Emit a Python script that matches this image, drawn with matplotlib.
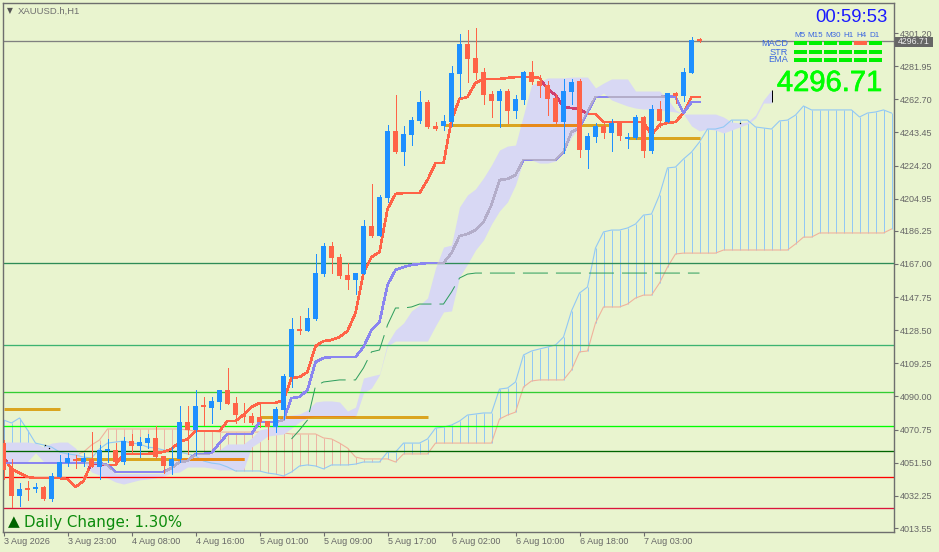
import numpy as np
import matplotlib
matplotlib.use("Agg")
import matplotlib.pyplot as plt
from matplotlib.patches import Rectangle
import matplotlib.patheffects as pe

W, H = 939, 552
BG = "#E9F4CF"
BLUE = "#1E90FF"
RED = "#FF6347"

# H1 candles
opens = [4062.9, 4047.9, 4032.1, 4036.8, 4036.2, 4037.4, 4030.4, 4043.2, 4051.3, 4053.7,
         4051.9, 4053.7, 4049.0, 4058.3, 4058.9, 4051.9, 4064.1, 4061.2, 4063.0, 4065.9,
         4055.4, 4049.6, 4053.7, 4075.2, 4070.5, 4084.4, 4083.3, 4086.8, 4093.8, 4086.2,
         4079.8, 4078.6, 4078.1, 4075.7, 4072.2, 4082.1, 4101.3, 4129.2, 4128.0, 4135.0,
         4161.2, 4177.4, 4171.0, 4160.6, 4157.7, 4161.2, 4189.0, 4183.2, 4205.3, 4244.2,
         4232.0, 4241.9, 4250.0, 4261.1, 4247.2, 4247.2, 4249.5, 4277.4, 4294.8, 4286.7,
         4278.5, 4265.8, 4261.7, 4267.5, 4255.9, 4262.3, 4278.5, 4273.3, 4271.0, 4263.4,
         4249.5, 4266.9, 4273.3, 4233.2, 4240.8, 4247.2, 4243.1, 4249.5, 4239.6, 4240.2,
         4252.4, 4232.6, 4257.0, 4249.5, 4266.3, 4264.6, 4278.0, 4297.1]
closes = [4047.3, 4032.1, 4036.2, 4035.9, 4037.4, 4030.4, 4043.8, 4051.9, 4054.2, 4052.5,
          4054.2, 4049.0, 4058.9, 4058.9, 4051.9, 4064.1, 4061.2, 4063.5, 4065.9, 4054.8,
          4049.6, 4053.7, 4075.2, 4070.5, 4084.4, 4083.8, 4087.4, 4093.8, 4085.6, 4079.2,
          4078.1, 4074.6, 4075.2, 4072.2, 4082.7, 4101.9, 4129.2, 4128.0, 4135.6, 4161.7,
          4177.4, 4170.5, 4160.0, 4157.7, 4161.7, 4189.0, 4183.2, 4205.9, 4244.2, 4232.0,
          4242.5, 4250.6, 4261.1, 4246.6, 4245.4, 4250.0, 4278.0, 4294.8, 4286.1, 4278.0,
          4265.2, 4261.7, 4267.5, 4255.9, 4262.9, 4278.5, 4272.7, 4270.4, 4262.9, 4249.5,
          4267.5, 4272.7, 4233.2, 4241.3, 4247.2, 4243.1, 4248.9, 4241.3, 4240.8, 4252.4,
          4232.6, 4257.0, 4250.0, 4266.3, 4264.6, 4278.5, 4297.1, 4296.7]
highs = [4064.7, 4053.7, 4039.8, 4040.9, 4039.8, 4038.0, 4045.5, 4056.0, 4057.2, 4056.0,
         4057.2, 4069.3, 4061.8, 4065.3, 4062.9, 4066.4, 4068.2, 4066.4, 4068.2, 4072.8,
         4055.4, 4060.6, 4084.4, 4084.4, 4093.8, 4089.7, 4089.7, 4093.8, 4106.5, 4089.7,
         4086.2, 4080.4, 4085.6, 4075.7, 4083.9, 4103.1, 4135.6, 4136.7, 4141.4, 4172.8,
         4179.2, 4179.8, 4172.8, 4167.6, 4161.7, 4192.5, 4213.5, 4207.1, 4247.7, 4265.2,
         4247.2, 4252.4, 4267.5, 4262.3, 4249.5, 4253.6, 4282.0, 4300.6, 4302.9, 4304.1,
         4280.9, 4267.5, 4268.7, 4268.7, 4265.2, 4279.1, 4284.9, 4276.8, 4273.3, 4265.8,
         4274.5, 4274.5, 4274.5, 4243.1, 4248.9, 4248.9, 4251.2, 4249.5, 4243.1, 4253.6,
         4253.0, 4259.4, 4261.7, 4266.3, 4266.9, 4280.9, 4298.9, 4298.3]
lows = [4042.0, 4025.7, 4026.3, 4029.8, 4034.5, 4029.8, 4029.2, 4043.2, 4049.6, 4048.4,
        4049.6, 4049.0, 4042.0, 4051.9, 4051.3, 4050.7, 4056.6, 4054.8, 4060.0, 4054.2,
        4045.6, 4045.0, 4051.9, 4056.6, 4056.0, 4073.4, 4074.6, 4082.7, 4085.6, 4074.6,
        4075.2, 4074.0, 4072.2, 4065.3, 4069.3, 4076.9, 4095.5, 4126.3, 4128.0, 4134.4,
        4160.0, 4161.7, 4158.8, 4152.5, 4149.5, 4161.2, 4182.6, 4183.2, 4203.0, 4231.5,
        4224.5, 4236.1, 4248.9, 4246.0, 4244.8, 4244.8, 4247.2, 4264.0, 4272.7, 4274.5,
        4260.0, 4252.4, 4246.6, 4248.9, 4251.8, 4260.0, 4271.6, 4264.0, 4253.6, 4248.9,
        4231.5, 4260.0, 4229.1, 4222.7, 4237.9, 4240.2, 4232.6, 4239.0, 4234.4, 4239.6,
        4229.1, 4231.5, 4246.6, 4249.5, 4260.5, 4261.7, 4278.0, 4295.9]

tenkan = [4054.8, 4047.8, 4045.5, 4043.2, 4042.6, 4042.6, 4042.6, 4042.6, 4042.0, 4037.4,
          4040.9, 4051.3, 4050.7, 4050.2, 4050.2, 4056.6, 4056.6, 4056.6, 4056.6, 4057.2,
          4057.7, 4059.5, 4063.5, 4065.3, 4069.9, 4069.9, 4069.9, 4069.9, 4075.7, 4075.7,
          4079.2, 4083.8, 4086.2, 4086.2, 4086.2, 4087.9, 4100.7, 4101.3, 4104.2, 4119.3,
          4122.2, 4122.8, 4124.5, 4128.0, 4138.5, 4161.7, 4171.0, 4173.9, 4198.9, 4207.7,
          4208.2, 4208.2, 4208.2, 4215.8, 4225.6, 4225.6, 4250.6, 4262.9, 4264.0, 4272.2,
          4274.5, 4274.5, 4274.5, 4275.1, 4275.6, 4275.6, 4275.6, 4275.1, 4268.7, 4265.2,
          4258.2, 4257.6, 4257.0, 4254.1, 4254.1, 4249.5, 4249.5, 4249.5, 4249.5, 4249.5,
          4249.5, 4241.9, 4247.8, 4248.9, 4249.5, 4254.7, 4264.0, 4264.0]
kijun = [4051.3, 4051.3, 4051.3, 4051.3, 4051.3, 4051.3, 4051.3, 4051.3, 4051.3, 4051.3,
         4051.3, 4051.3, 4051.3, 4050.2, 4046.1, 4046.1, 4046.1, 4046.1, 4046.1, 4046.1,
         4046.1, 4048.4, 4051.9, 4052.5, 4056.6, 4056.6, 4057.2, 4062.9, 4068.2, 4068.2,
         4068.2, 4068.2, 4075.2, 4075.2, 4075.2, 4076.3, 4089.1, 4089.7, 4093.8, 4110.0,
         4112.4, 4112.9, 4112.9, 4112.9, 4112.9, 4118.7, 4128.6, 4133.3, 4154.8, 4163.5,
         4165.2, 4166.4, 4167.0, 4167.6, 4167.6, 4167.6, 4173.4, 4183.2, 4184.4, 4186.7,
         4191.4, 4201.3, 4215.8, 4216.4, 4218.7, 4227.4, 4227.4, 4227.4, 4227.4, 4227.4,
         4232.0, 4243.7, 4246.0, 4255.3, 4264.0, 4264.0, 4264.0, 4264.0, 4264.0, 4264.0,
         4264.0, 4264.0, 4264.0, 4264.6, 4264.0, 4254.7, 4261.1, 4261.1]

# chikou starts at candle 36
chikou = [4065.3, 4070.5, 4076.3, 4096.1, 4098.4, 4099.0, 4099.6, 4099.6, 4099.6, 4106.6,
          4115.9, 4117.0, 4131.5, 4141.4, 4141.4, 4142.0, 4143.7, 4143.7, 4143.7, 4143.7,
          4150.7, 4158.8, 4161.1, 4161.7, 4161.7, 4161.7, 4161.7, 4161.7, 4161.7, 4161.7,
          4161.7, 4161.7, 4161.7, 4161.7, 4161.7, 4161.7, 4161.7, 4161.7, 4161.7, 4161.7,
          4161.7, 4161.7, 4161.7, 4161.7, 4161.7, 4161.7, 4161.7, 4161.7, 4161.7, 4161.7,
          4161.7, 4161.7]

span_a = [4076.3, 4074.6, 4077.5, 4070.5, 4062.9, 4061.8, 4060.6, 4057.7, 4056.6, 4056.0,
          4054.8, 4054.2, 4059.5, 4062.9, 4063.5, 4064.1, 4062.9, 4062.4, 4060.6, 4060.0,
          4058.9, 4058.3, 4057.7, 4056.6, 4055.4, 4052.5, 4051.3, 4050.7, 4049.0, 4046.7,
          4046.7, 4046.7, 4046.7, 4045.5, 4044.9, 4043.8, 4046.1, 4049.6, 4050.2, 4049.6,
          4047.9, 4050.2, 4050.2, 4050.2, 4050.7, 4051.9, 4051.9, 4051.9, 4057.7, 4057.7,
          4062.9, 4062.9, 4062.9, 4065.3, 4071.6, 4072.2, 4073.4, 4075.7, 4079.2, 4079.8,
          4080.4, 4080.4, 4094.3, 4094.9, 4098.4, 4114.1, 4116.4, 4117.6, 4118.7, 4119.9,
          4124.5, 4139.7, 4150.1, 4153.6, 4176.3, 4185.6, 4186.7, 4186.7, 4187.9, 4190.2,
          4195.4, 4196.0, 4207.1, 4222.8, 4223.3, 4228.0, 4232.0, 4237.9, 4245.4, 4245.4,
          4246.6, 4250.6, 4250.6, 4250.6, 4246.6, 4246.0, 4245.4, 4250.1, 4250.6, 4253.5,
          4258.8, 4256.5, 4256.5, 4256.5, 4256.5, 4256.5, 4256.5, 4252.4, 4254.7, 4255.3,
          4256.5, 4254.7]
span_b = [4058.9, 4058.9, 4058.9, 4058.9, 4058.9, 4058.9, 4059.5, 4057.2, 4056.6, 4056.0,
          4057.7, 4061.8, 4064.7, 4071.1, 4071.1, 4071.1, 4071.1, 4071.1, 4071.1, 4071.1,
          4071.1, 4071.1, 4071.1, 4070.5, 4069.9, 4069.9, 4069.9, 4069.3, 4069.3, 4069.3,
          4069.3, 4069.3, 4069.3, 4069.3, 4069.3, 4068.8, 4068.2, 4068.2, 4068.2, 4068.2,
          4065.9, 4065.3, 4062.9, 4060.0, 4054.8, 4053.7, 4053.7, 4053.7, 4053.7, 4051.9,
          4056.6, 4056.6, 4056.6, 4056.6, 4062.9, 4062.9, 4062.9, 4062.9, 4062.9, 4062.9,
          4062.9, 4062.9, 4076.9, 4079.2, 4080.9, 4095.5, 4099.0, 4099.6, 4099.6, 4099.6,
          4099.6, 4105.4, 4115.9, 4116.4, 4132.7, 4142.0, 4142.0, 4142.0, 4143.7, 4147.2,
          4148.9, 4148.9, 4155.9, 4165.2, 4172.8, 4173.3, 4173.3, 4173.3, 4173.3, 4173.3,
          4175.1, 4175.1, 4175.1, 4175.1, 4175.1, 4175.1, 4175.1, 4175.1, 4175.1, 4178.6,
          4182.6, 4182.6, 4185.0, 4185.0, 4185.0, 4185.0, 4185.0, 4185.0, 4185.0, 4185.0,
          4185.0, 4187.3]

# lavender cloud (higher timeframe)
cloud_top = [4063.5, 4063.5, 4063.5, 4063.5, 4062.9, 4060.6, 4062.9, 4063.5, 4063.5, 4060.0,
             4053.1, 4051.3, 4051.3, 4050.7, 4045.2, 4045.2, 4045.2, 4045.2, 4045.2, 4045.2,
             4045.2, 4051.9, 4053.7, 4054.2, 4056.6, 4056.6, 4056.6, 4058.9, 4062.4, 4062.4,
             4062.4, 4065.9, 4070.5, 4071.6, 4074.0, 4078.6, 4079.2, 4079.8, 4082.1, 4086.8,
             4087.4, 4087.4, 4086.8, 4081.5, 4083.8, 4100.7, 4101.9, 4103.0, 4121.0, 4128.6,
             4132.7, 4139.7, 4143.1, 4147.2, 4164.6, 4176.8, 4178.0, 4200.1, 4207.1, 4210.6,
             4217.0, 4224.5, 4233.2, 4235.5, 4236.1, 4253.5, 4271.0, 4272.7, 4275.1, 4275.1,
             4275.1, 4275.6, 4275.6, 4275.6, 4269.3, 4272.1, 4274.5, 4274.5, 4274.5, 4267.5,
             4267.5, 4267.5, 4267.5, 4262.9, 4256.5, 4254.1, 4254.1, 4254.1, 4254.1, 4254.1,
             4252.4, 4249.5, 4248.9, 4249.5, 4253.5, 4262.3, 4268.1]
cloud_bottom = [4052.2, 4052.2, 4052.2, 4052.2, 4057.2, 4052.2, 4052.2, 4052.2, 4052.2, 4052.2,
                4052.2, 4046.1, 4044.3, 4042.6, 4040.3, 4039.1, 4040.3, 4041.5, 4042.0, 4042.6,
                4043.8, 4045.5, 4046.1, 4049.0, 4049.0, 4049.0, 4048.4, 4047.3, 4047.3, 4047.3,
                4047.3, 4060.6, 4063.5, 4067.0, 4067.6, 4068.2, 4071.6, 4075.2, 4077.5, 4078.1,
                4078.1, 4078.1, 4078.1, 4078.1, 4078.1, 4092.0, 4094.9, 4102.5, 4119.3, 4122.2,
                4122.2, 4122.2, 4122.2, 4122.2, 4131.0, 4139.1, 4139.7, 4159.4, 4166.9, 4175.1,
                4180.9, 4190.2, 4197.8, 4203.0, 4212.9, 4227.4, 4227.4, 4225.6, 4225.6, 4226.8,
                4231.5, 4240.8, 4246.6, 4254.7, 4263.4, 4266.3, 4262.3, 4260.5, 4258.8, 4257.6,
                4257.0, 4257.0, 4256.5, 4255.9, 4255.3, 4254.1, 4247.2, 4244.3, 4245.4, 4244.8,
                4243.1, 4244.8, 4246.6, 4248.3, 4251.8, 4260.5, 4260.5]

# horizontal levels
level_prices = [4167.5, 4120.0, 4092.3, 4072.6, 4058.3, 4043.4, 4025.0]
level_colors = ["#2E8B57", "#3CB371", "#32CD32", "#00FF00", "#006400", "#FF0000", "#DC143C"]

# goldenrod segments (price, first candle, last candle)
seg_prices = [4082.7, 4078.1, 4053.7, 4247.7, 4240.2]
seg_starts = [0, 32, 9, 55, 78]
seg_ends = [7, 53, 30, 76, 87]

bid = 4296.71
ytick_vals = [4301.20, 4281.95, 4262.70, 4243.45, 4224.20, 4204.95, 4186.25, 4167.00,
              4147.75, 4128.50, 4109.25, 4090.00, 4070.75, 4051.50, 4032.25, 4013.55]
xtick_labels = ["3 Aug 2026", "3 Aug 23:00", "4 Aug 08:00", "4 Aug 16:00", "5 Aug 01:00",
                "5 Aug 09:00", "5 Aug 17:00", "6 Aug 02:00", "6 Aug 10:00", "6 Aug 18:00",
                "7 Aug 03:00"]
xtick_pos = [0, 8, 16, 24, 32, 40, 48, 56, 64, 72, 80]

# signal panel
frames = ["M5", "M15", "M30", "H1", "H4", "D1"]
rows = ["MACD", "STR", "EMA"]
signals = [[1, 1, 1, 1, 0, 1], [1, 1, 1, 1, 1, 1], [1, 1, 1, 1, 1, 1]]


def fx(x):
    return x / W


def fy(y):
    return 1 - y / H


fig = plt.figure(figsize=(W / 100, H / 100), dpi=100, facecolor=BG)
ax = fig.add_axes([fx(2.5), fy(532), 891 / W, 529 / H], facecolor=BG)
ax.set_xlim(-0.125, 111.25)
ax.set_ylim(4011.23, 4318.64)

# ichimoku hatch
idx = np.arange(len(span_a))
a = np.array(span_a)
b = np.array(span_b)
ax.vlines(idx[a > b], b[a > b], a[a > b], color="#92C8F5", lw=0.72, zorder=1)
ax.vlines(idx[a <= b], a[a <= b], b[a <= b], color="#EDB5A5", lw=0.72, zorder=1)
ax.plot(idx, b, color="#F0B29C", lw=0.8, zorder=1.1)

# lavender cloud
cx = np.arange(len(cloud_top))
cloud = ax.fill_between(cx, cloud_bottom, cloud_top, color="#D8D8F4", lw=0, zorder=2)
cloud_path = cloud.get_paths()[0]
ax.plot(idx, a, color="#92C8F5", lw=0.8, zorder=2.2)

for price, col in zip(level_prices, level_colors):
    ax.axhline(price, color=col, lw=0.95, zorder=2.5)
ax.axhline(bid - 0.3, color="#808080", lw=0.95, zorder=2.5)

# chikou
ax.plot(np.arange(36, 36 + len(chikou)), chikou, color="#2E9E5E", lw=0.72,
        dashes=(25, 8), zorder=2.6)

# goldenrod levels, darker where they cross the lavender cloud
for price, s, e in zip(seg_prices, seg_starts, seg_ends):
    ax.hlines(price, s, e, color="#DAA520", lw=2.16, zorder=3.5)
    over = ax.hlines(price, s, e, color="#E8891A", lw=2.16, zorder=3.6)
    over.set_clip_path(cloud_path, ax.transData)

# tenkan / kijun, tinted where they cross the cloud
n = np.arange(len(opens))
ax.plot(n, tenkan, color=RED, lw=1.15, zorder=4, antialiased=False)
ax.plot(n, kijun, color="#8A85F0", lw=1.15, zorder=4.1, antialiased=False)
l1, = ax.plot(n, tenkan, color="#CF3F6F", lw=1.15, zorder=4.05, antialiased=False)
l1.set_clip_path(cloud_path, ax.transData)
l2, = ax.plot(n, kijun, color="#B3ADC9", lw=1.15, zorder=4.15, antialiased=False)
l2.set_clip_path(cloud_path, ax.transData)

# candles sit on top of everything
o = np.array(opens)
c = np.array(closes)
cols = [BLUE if v else RED for v in c >= o]
ax.vlines(n, lows, highs, color=cols, lw=0.72, zorder=6, antialiased=False)
ax.bar(n, np.maximum(np.abs(c - o), 1.0), bottom=np.minimum(o, c), width=0.625,
       color=cols, zorder=6.1, antialiased=False, lw=0)

# end of the cloud and stray dots
ax.vlines(96, 4261.0, 4268.1, color="black", lw=0.72, zorder=5)
ax.plot([5.2, 5.7, 92], [4061.8, 4060.0, 4248.9], ls="none", marker="s", ms=0.9,
        color="black", mew=0, zorder=5)

# axes styling
for side in ["top", "bottom", "left", "right"]:
    ax.spines[side].set_color("#6E6E6E")
    ax.spines[side].set_linewidth(1.0)
ax.yaxis.tick_right()
ax.set_yticks(ytick_vals)
ax.set_yticklabels([f"{v:.2f}" for v in ytick_vals], fontsize=6.5, family="Liberation Sans",
                   color="#666666")
ax.set_xticks(xtick_pos)
ax.set_xticklabels(xtick_labels, fontsize=6.5, family="Liberation Sans", color="#666666", ha="left")
ax.tick_params(axis="y", length=3, width=0.8, color="#6E6E6E", pad=1.5)
ax.tick_params(axis="x", length=3, width=0.8, color="#6E6E6E", pad=0.5)

# bid label on the price scale
fig.add_artist(Rectangle((fx(895), fy(47)), 38 / W, 10 / H, fc="#666666", ec="none",
                         transform=fig.transFigure, zorder=8))
fig.text(fx(914), fy(42), f"{bid:.2f}", fontsize=6.3, family="Liberation Sans", color="#EDEDED",
         va="center", ha="center", zorder=9)

# header
fig.text(fx(7), fy(13.5), "\u25bc", fontsize=5.5, color="#555555", family="DejaVu Sans")
fig.text(fx(18), fy(14), "XAUUSD.h,H1", fontsize=6.8, color="#707070", family="Liberation Sans")

# clock and panel
fig.text(fx(888), fy(21.5), "00:59:53", fontsize=13.3, color="#1A1AFF", ha="right",
         family="Liberation Sans")
frame_x = [794, 809, 824, 839, 854, 869]
frame_centers = [799.5, 815.5, 833, 849, 861.5, 875]
for fr, x in zip(frames, frame_centers):
    fig.text(fx(x), fy(36.7), fr, fontsize=5.8, color="#3A66E0", ha="center",
             family="Liberation Sans")
row_y = [41.5, 50, 58]
row_text_y = [46, 55, 62.5]
for r, name in enumerate(rows):
    fig.text(fx(788), fy(row_text_y[r]), name, fontsize=6.6, color="#3A66E0", ha="right",
             family="Liberation Sans")
    for k, on in enumerate(signals[r]):
        fig.add_artist(Rectangle((fx(frame_x[k]), fy(row_y[r] + 3.8)), 13 / W, 3.8 / H,
                                 fc="#00F000" if on else RED, ec="none",
                                 transform=fig.transFigure, zorder=6))
fig.text(fx(882), fy(91), "4296.71", fontsize=21, color="#00FF00", ha="right",
         family="Liberation Sans",
         path_effects=[pe.withStroke(linewidth=0.5, foreground="#00FF00")])

# daily change
fig.text(fx(8), fy(526.5), "\u25b2", fontsize=11, color="#006400", family="DejaVu Sans")
fig.text(fx(24.5), fy(527), "Daily Change: 1.30%", fontsize=10.8, color="#0A8A0A",
         family="DejaVu Sans")

fig.savefig("out.png", dpi=100, facecolor=BG)
